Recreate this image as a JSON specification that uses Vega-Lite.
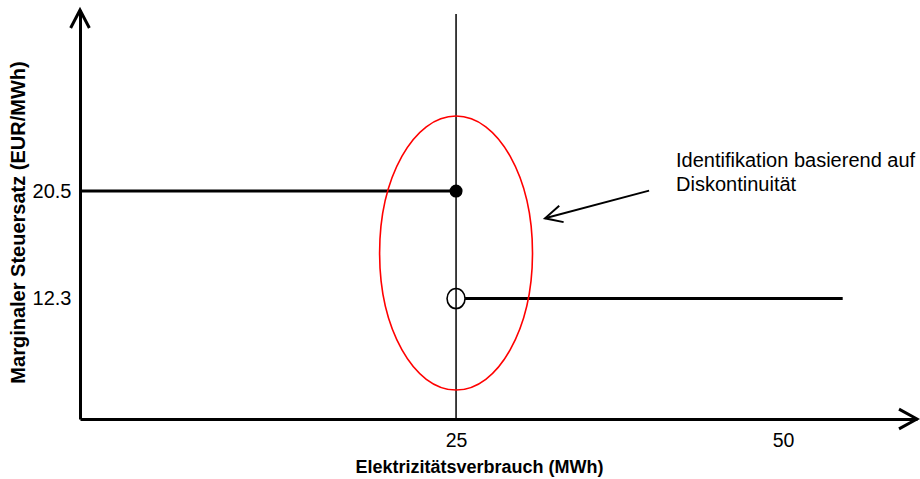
{
  "$schema": "https://vega.github.io/schema/vega-lite/v6.json",
  "width": 837,
  "height": 409,
  "autosize": {"type": "none"},
  "padding": {"left": 80, "top": 10, "right": 3, "bottom": 60},
  "config": {"view": {"stroke": null}, "font": "Liberation Sans"},
  "datasets": {
    "stufen": [
      {"x": -3.75, "x2": 25, "y": 20.5},
      {"x": 25.69, "x2": 54.56, "y": 12.3}
    ],
    "schwelle": [{"x": 25, "y": 3.11, "y2": 34.0}],
    "geschlossen": [{"x": 25, "y": 20.5}],
    "offen": [{"x": 25, "y": 12.3}],
    "ellipse": [{"x": 25, "y": 15.77}],
    "pfeil": [{"x": 39.76, "y": 20.53, "x2": 31.8, "y2": 18.42}],
    "pfeilspitze": [{"x": 31.8, "y": 18.42}],
    "xspitze": [{"x": 60.24, "y": 3.11}],
    "yspitze": [{"x": -3.75, "y": 34.31}],
    "notiz": [{"x": 41.82, "y": 22.31, "text": "Identifikation basierend auf\nDiskontinuität"}]
  },
  "encoding": {
    "x": {
      "field": "x", "type": "quantitative",
      "scale": {"domain": [-3.75, 60.24], "nice": false, "zero": false},
      "axis": {
        "values": [25, 50], "title": "Elektrizitätsverbrauch (MWh)",
        "ticks": false, "tickSize": 0, "grid": false, "labelPadding": 12,
        "labelFontSize": 19.5, "labelColor": "black", "labelFlush": false, "labelOverlap": false,
        "domainColor": "black", "domainWidth": 3,
        "titleFontSize": 18, "titleFontWeight": "bold", "titleColor": "black",
        "titleX": 399, "titleY": 48, "titleBaseline": "middle", "titleAlign": "center"
      }
    },
    "y": {
      "field": "y", "type": "quantitative",
      "scale": {"domain": [3.11, 34.31], "nice": false, "zero": false},
      "axis": {
        "values": [12.3, 20.5], "format": ".1f", "title": "Marginaler Steuersatz (EUR/MWh)",
        "ticks": false, "tickSize": 0, "grid": false, "labelPadding": 9,
        "labelFontSize": 20, "labelColor": "black", "labelFlush": false, "labelOverlap": false,
        "domainColor": "black", "domainWidth": 3,
        "titleFontSize": 20, "titleFontWeight": "bold", "titleColor": "black",
        "titleAngle": -90, "titleX": -62, "titleY": 212, "titleBaseline": "middle", "titleAlign": "center"
      }
    }
  },
  "layer": [
    {
      "data": {"name": "schwelle"},
      "mark": {"type": "rule", "color": "black", "strokeWidth": 1.5},
      "encoding": {"y2": {"field": "y2"}}
    },
    {
      "data": {"name": "stufen"},
      "mark": {"type": "rule", "color": "black", "strokeWidth": 3},
      "encoding": {"x2": {"field": "x2"}}
    },
    {
      "data": {"name": "ellipse"},
      "mark": {
        "type": "point", "filled": false, "stroke": "#ff0000", "strokeWidth": 1.6, "opacity": 1,
        "shape": "M -0.558 0 A 0.558 1 0 1 0 0.558 0 A 0.558 1 0 1 0 -0.558 0 Z",
        "size": 75076
      }
    },
    {
      "data": {"name": "geschlossen"},
      "mark": {"type": "point", "shape": "circle", "filled": true, "color": "black", "opacity": 1, "size": 170}
    },
    {
      "data": {"name": "offen"},
      "mark": {
        "type": "point", "filled": false, "stroke": "black", "strokeWidth": 1.6, "opacity": 1,
        "shape": "M -0.9 0 A 0.9 1 0 1 0 0.9 0 A 0.9 1 0 1 0 -0.9 0 Z", "size": 400
      }
    },
    {
      "data": {"name": "pfeil"},
      "mark": {"type": "rule", "color": "black", "strokeWidth": 2},
      "encoding": {"x2": {"field": "x2"}, "y2": {"field": "y2"}}
    },
    {
      "data": {"name": "pfeilspitze"},
      "mark": {
        "type": "point", "filled": false, "stroke": "black", "strokeWidth": 2, "opacity": 1,
        "shape": "M -1 -0.5 L 0 0 L -1 0.5", "size": 1156, "angle": 165
      }
    },
    {
      "data": {"name": "xspitze"},
      "mark": {
        "type": "point", "filled": false, "stroke": "black", "strokeWidth": 3, "opacity": 1,
        "shape": "M -1 -0.55 L 0 0 L -1 0.55", "size": 1296, "angle": 0
      }
    },
    {
      "data": {"name": "yspitze"},
      "mark": {
        "type": "point", "filled": false, "stroke": "black", "strokeWidth": 3, "opacity": 1,
        "shape": "M -1 -0.52 L 0 0 L -1 0.52", "size": 1296, "angle": 270
      }
    },
    {
      "data": {"name": "notiz"},
      "mark": {
        "type": "text", "align": "left", "baseline": "alphabetic", "fontSize": 20,
        "lineBreak": "\n", "lineHeight": 24, "color": "black"
      },
      "encoding": {"text": {"field": "text"}}
    }
  ]
}
